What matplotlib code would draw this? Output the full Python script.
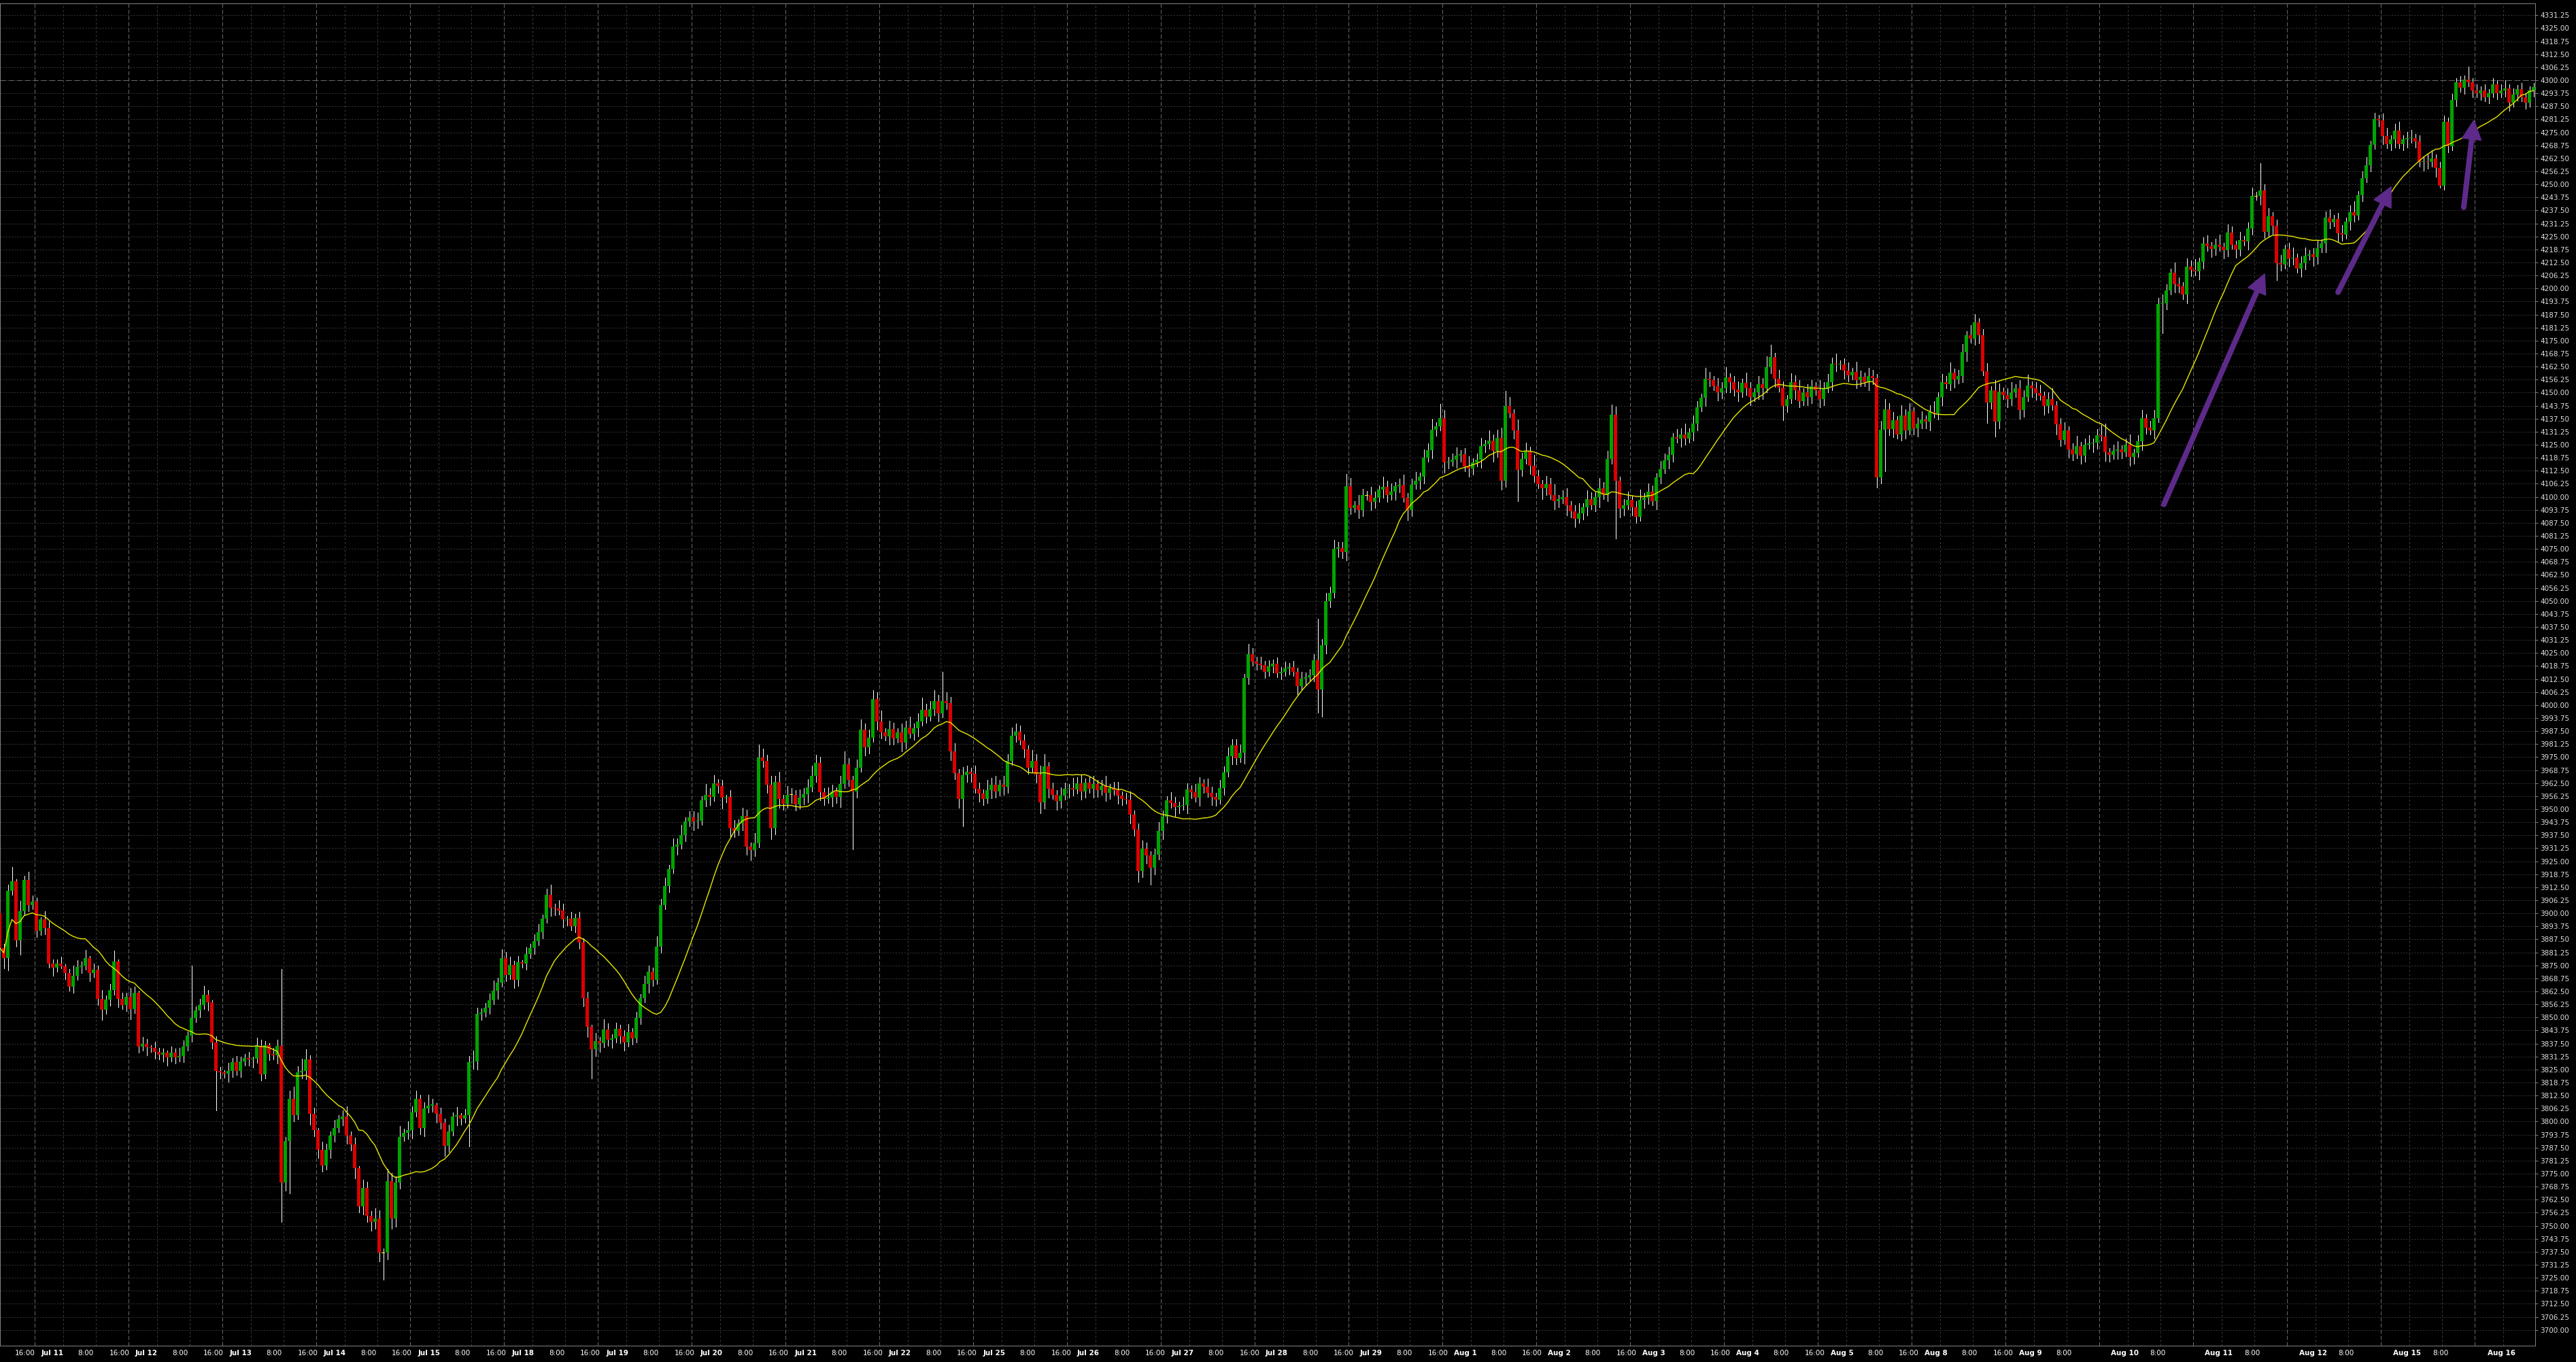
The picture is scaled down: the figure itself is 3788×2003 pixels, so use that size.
import numpy as np
import pandas as pd
import matplotlib
matplotlib.use('Agg')
import matplotlib.pyplot as plt
import matplotlib.transforms as mtransforms
from matplotlib.patches import Polygon

plt.rcParams['lines.scale_dashes'] = False
plt.rcParams['font.family'] = 'DejaVu Sans'

# hourly bars (open of each bar = previous close)
first_open = 3900.2
closes = [
    3883.5, 3878.5, 3910.8, 3915.4, 3887.1, 3901.0, 3916.0, 3904.0, 3905.6, 3891.5,
    3897.0, 3893.0, 3876.0, 3874.0, 3876.0, 3874.5, 3871.3, 3864.8, 3869.9, 3874.4,
    3874.8, 3878.5, 3871.3, 3873.0, 3859.0, 3853.7, 3858.7, 3863.0, 3877.0, 3858.9,
    3856.0, 3860.0, 3854.0, 3861.7, 3836.0, 3837.5, 3835.8, 3835.3, 3833.3, 3832.0,
    3833.0, 3830.8, 3833.0, 3830.8, 3831.5, 3836.0, 3841.4, 3849.9, 3853.2, 3856.0,
    3861.0, 3857.3, 3838.0, 3824.3, 3823.6, 3823.0, 3824.3, 3828.4, 3824.3, 3829.0,
    3830.5, 3829.8, 3830.2, 3836.4, 3822.6, 3836.6, 3832.5, 3831.8, 3836.4, 3770.7,
    3790.6, 3810.8, 3803.0, 3823.6, 3824.3, 3829.8, 3803.6, 3796.0, 3786.5, 3779.0,
    3786.5, 3793.4, 3796.8, 3801.2, 3802.3, 3793.4, 3789.2, 3777.6, 3759.4, 3768.0,
    3754.9, 3751.7, 3753.5, 3737.0, 3737.0, 3771.4, 3753.5, 3770.7, 3792.7, 3794.7,
    3796.0, 3804.3, 3810.8, 3796.8, 3806.4, 3807.8, 3808.0, 3803.6, 3799.6, 3788.5,
    3795.4, 3802.3, 3803.0, 3801.6, 3803.0, 3828.4, 3829.0, 3851.8, 3852.5, 3854.8,
    3858.4, 3862.8, 3866.9, 3878.6, 3870.3, 3875.1, 3868.2, 3876.5, 3875.8, 3880.6,
    3883.4, 3886.8, 3890.9, 3897.5, 3908.8, 3902.6, 3902.2, 3901.5, 3897.1, 3897.6,
    3894.0, 3897.8, 3886.1, 3859.3, 3845.6, 3834.6, 3838.7, 3837.6, 3844.2, 3839.4,
    3840.0, 3844.6, 3840.8, 3838.0, 3842.8, 3840.0, 3849.7, 3859.3, 3866.0, 3872.0,
    3868.0, 3884.0, 3903.9, 3913.1, 3921.2, 3932.1, 3933.0, 3937.5, 3944.0, 3946.0,
    3944.0, 3944.5, 3954.3, 3957.0, 3956.0, 3962.4, 3961.0, 3955.4, 3956.0, 3940.8,
    3939.5, 3943.0, 3946.7, 3932.1, 3930.5, 3933.7, 3974.9, 3973.2, 3961.9, 3940.8,
    3963.0, 3954.8, 3952.7, 3957.0, 3957.0, 3952.2, 3955.4, 3957.2, 3960.5, 3966.0,
    3972.2, 3958.1, 3954.8, 3955.4, 3958.6, 3955.9, 3962.0, 3971.6, 3964.0, 3958.6,
    3970.0, 3988.2, 3979.7, 3984.3, 4003.0, 3992.2, 3986.8, 3985.0, 3988.6, 3984.1,
    3987.0, 3981.9, 3989.3, 3986.2, 3989.0, 3992.2, 3997.6, 3994.4, 3998.0, 4002.0,
    3996.0, 4002.0, 4001.0, 3977.6, 3967.3, 3954.8, 3966.2, 3968.0, 3967.0, 3959.7,
    3957.6, 3954.8, 3959.2, 3961.9, 3958.6, 3961.9, 3960.8, 3973.3, 3985.2, 3987.3,
    3983.0, 3978.7, 3970.0, 3973.3, 3966.8, 3953.2, 3970.5, 3959.7, 3957.0, 3953.8,
    3956.5, 3959.7, 3960.0, 3959.5, 3962.4, 3958.6, 3962.6, 3959.7, 3962.0, 3959.0,
    3961.0, 3958.0, 3960.0, 3959.0, 3956.5, 3955.0, 3954.6, 3947.3, 3940.2, 3920.2,
    3931.0, 3927.8, 3921.8, 3928.0, 3939.7, 3946.5, 3954.2, 3952.8, 3950.9, 3951.6,
    3952.0, 3959.5, 3958.2, 3955.5, 3962.5, 3960.7, 3957.9, 3956.0, 3954.6, 3960.0,
    3967.7, 3975.6, 3980.7, 3974.5, 3977.0, 4013.1, 4024.3, 4021.0, 4020.0, 4019.2,
    4016.0, 4018.6, 4019.9, 4015.3, 4016.1, 4017.7, 4018.3, 4016.0, 4009.1, 4012.8,
    4013.5, 4014.4, 4021.5, 4007.4, 4028.7, 4049.9, 4053.7, 4075.2, 4075.4, 4073.5,
    4105.1, 4094.8, 4096.0, 4093.7, 4100.7, 4100.7, 4097.5, 4099.5, 4103.5, 4104.6,
    4100.7, 4102.5, 4105.1, 4105.6, 4099.7, 4093.7, 4105.7, 4107.8, 4109.5, 4118.7,
    4122.5, 4132.3, 4133.7, 4137.7, 4116.5, 4117.0, 4117.8, 4119.8, 4120.3, 4114.4,
    4113.5, 4116.5, 4117.8, 4124.4, 4125.2, 4127.0, 4122.0, 4128.3, 4107.6, 4143.7,
    4140.0, 4132.0, 4113.0, 4118.0, 4122.0, 4115.0, 4110.0, 4106.0, 4104.0, 4106.0,
    4101.0, 4098.0, 4099.0, 4100.0, 4096.0, 4093.0, 4089.5, 4092.0, 4095.0, 4099.0,
    4096.0, 4100.0, 4104.0, 4101.0, 4118.0, 4139.4, 4107.8, 4094.2, 4096.0, 4098.4,
    4095.0, 4090.4, 4098.6, 4099.7, 4102.4, 4098.0, 4109.4, 4113.3, 4117.6, 4120.0,
    4128.5, 4128.0, 4130.0, 4128.0, 4131.0, 4135.0, 4143.0, 4147.5, 4156.8, 4156.0,
    4153.0, 4150.3, 4152.0, 4157.3, 4155.0, 4151.4, 4150.0, 4154.6, 4152.0, 4148.0,
    4150.0, 4154.0, 4152.0, 4162.3, 4167.1, 4156.8, 4152.4, 4143.7, 4147.0, 4155.2,
    4151.0, 4146.0, 4150.0, 4148.0, 4153.0, 4151.0, 4147.0, 4152.0, 4155.0, 4163.9,
    4163.4, 4163.6, 4160.6, 4158.4, 4159.8, 4156.0, 4157.5, 4155.0, 4158.0, 4157.0,
    4109.4, 4132.3, 4142.0, 4132.5, 4136.7, 4130.0, 4139.0, 4131.8, 4141.0, 4133.0,
    4135.0, 4137.0, 4136.0, 4140.8, 4140.0, 4148.0, 4155.0, 4154.0, 4159.5, 4156.5,
    4158.0, 4169.3, 4177.5, 4176.0, 4183.8, 4177.5, 4160.3, 4145.3, 4151.0, 4136.0,
    4150.5, 4149.0, 4146.8, 4150.0, 4152.0, 4141.5, 4148.0, 4153.5, 4152.0, 4149.7,
    4148.5, 4143.5, 4147.0, 4143.8, 4134.8, 4127.3, 4131.8, 4122.8, 4120.5, 4124.3,
    4119.8, 4125.0, 4125.5, 4126.0, 4129.5, 4129.0, 4121.3, 4120.0, 4122.0, 4122.8,
    4121.5, 4125.0, 4119.0, 4121.0, 4126.5, 4137.8, 4133.3, 4132.0, 4137.8, 4192.5,
    4193.0, 4199.2, 4207.5, 4202.2, 4201.0, 4197.0, 4210.5, 4209.0, 4208.2, 4212.7,
    4221.7, 4220.2, 4219.0, 4221.0, 4220.0, 4218.5, 4226.9, 4221.0, 4218.7, 4223.2,
    4222.6, 4228.9, 4244.4, 4244.4, 4247.1, 4227.3, 4234.6, 4230.2, 4212.1, 4211.5,
    4219.0, 4214.5, 4214.8, 4209.6, 4212.3, 4215.8, 4216.4, 4215.0, 4219.4, 4221.5,
    4234.1, 4231.7, 4233.5, 4226.4, 4225.9, 4232.1, 4236.8, 4235.1, 4244.9, 4253.1,
    4259.1, 4268.9, 4281.4, 4280.9, 4273.2, 4269.4, 4271.6, 4276.0, 4269.4, 4271.6,
    4272.1, 4272.3, 4270.7, 4260.7, 4261.3, 4260.7, 4262.4, 4257.8, 4249.5, 4280.1,
    4268.3, 4290.6, 4299.1, 4296.5, 4300.4, 4299.1, 4295.0, 4293.7, 4295.0, 4291.9,
    4293.7, 4298.0, 4293.9, 4295.2, 4296.0, 4289.2, 4293.2, 4295.8, 4291.9, 4289.3,
    4295.2, 4296.7,
]

# wick above / below the body, points
wick_up = [
    5, 2, 3, 7, 1, 5, 2, 4, 3, 2,   1, 4, 3, 2, 2, 3, 1, 2, 5, 3,
    2, 4, 1, 3, 2, 4, 2, 3, 5, 1,   3, 2, 4, 3, 1, 3, 2, 1, 3, 2,
    2, 1, 3, 2, 4, 3, 2, 25, 2, 3,  4, 2, 1, 3, 2, 1, 4, 2, 3, 2,
    2, 3, 1, 4, 3, 2, 1, 3, 3, 37,  2, 4, 6, 3, 6, 5, 2, 3, 1, 4,
    3, 2, 4, 2, 3, 5, 2, 3, 1, 4,   3, 2, 5, 4, 2, 6, 4, 3, 5, 2,
    4, 3, 4, 2, 3, 5, 3, 1, 3, 2,   3, 2, 4, 1, 3, 3, 5, 3, 2, 2,
    3, 5, 2, 4, 3, 4, 2, 3, 1, 3,   2, 3, 4, 2, 3, 5, 2, 4, 3, 1,
    3, 2, 3, 2, 3, 1, 4, 2, 5, 3,   2, 3, 2, 3, 4, 2, 3, 2, 4, 3,
    2, 5, 3, 4, 2, 4, 3, 5, 2, 3,   3, 4, 2, 5, 3, 4, 2, 3, 1, 3,
    4, 2, 4, 3, 2, 5, 6, 4, 3, 4,   3, 5, 2, 4, 3, 2, 4, 3, 4, 5,
    4, 3, 2, 5, 3, 2, 4, 6, 3, 2,   4, 5, 3, 4, 4, 3, 5, 2, 4, 3,
    2, 4, 3, 5, 2, 4, 6, 3, 4, 5,   3, 14, 4, 3, 4, 2, 4, 3, 2, 4,
    3, 2, 5, 3, 4, 2, 4, 3, 4, 4,   3, 3, 2, 5, 3, 4, 6, 2, 3, 2,
    4, 3, 2, 5, 3, 4, 2, 3, 4, 2,   3, 5, 2, 3, 4, 2, 3, 4, 2, 3,
    4, 3, 2, 3, 4, 3, 2, 4, 3, 2,   4, 3, 2, 4, 3, 2, 4, 3, 2, 4,
    3, 4, 3, 3, 4, 2, 5, 3, 2, 3,   2, 3, 2, 3, 2, 3, 2, 3, 2, 3,
    2, 3, 3, 20, 3, 4, 3, 4, 3, 3,  6, 4, 2, 5, 3, 2, 4, 3, 2, 5,
    3, 4, 2, 3, 5, 2, 3, 4, 2, 4,   3, 5, 2, 7, 4, 2, 3, 4, 2, 3,
    5, 2, 3, 4, 2, 5, 3, 4, 5, 7,   4, 2, 5, 3, 4, 2, 5, 3, 2, 4,
    3, 5, 2, 3, 4, 2, 3, 5, 2, 4,   3, 2, 5, 3, 4, 5, 4, 2, 3, 4,
    2, 3, 5, 2, 4, 3, 2, 4, 3, 4,   2, 4, 3, 5, 2, 4, 3, 2, 5, 3,
    2, 4, 3, 5, 2, 3, 4, 2, 5, 3,   2, 4, 3, 5, 6, 2, 4, 3, 2, 4,
    3, 5, 2, 4, 3, 2, 5, 3, 4, 3,   5, 2, 3, 4, 2, 5, 3, 2, 4, 3,
    2, 4, 5, 3, 4, 2, 5, 3, 4, 2,   3, 4, 2, 3, 5, 2, 4, 3, 5, 2,
    3, 4, 2, 5, 4, 2, 3, 4, 2, 5,   4, 2, 3, 5, 2, 4, 3, 5, 2, 3,
    4, 2, 3, 5, 2, 3, 4, 2, 3, 5,   2, 3, 4, 2, 3, 5, 6, 2, 3, 4,
    2, 3, 5, 2, 3, 4, 2, 3, 4, 3,   4, 3, 2, 5, 3, 2, 4, 3, 5, 2,
    3, 4, 2, 3, 5, 2, 4, 3, 2, 4,   2, 3, 4, 2, 13, 3, 4, 2, 3, 4,
    2, 3, 5, 2, 3, 4, 2, 3, 4, 2,   3, 4, 2, 3, 4, 2, 3, 5, 2, 3,
    4, 2, 3, 2, 3, 4, 2, 3, 4, 2,   3, 4, 2, 3, 2, 3, 4, 2, 3, 3,
    2, 3, 2, 3, 2, 6, 2, 3, 2, 3,   2, 3, 2, 3, 4, 2, 3, 2, 3, 2,
    2, 2,
]
wick_dn = [
    4, 5, 6, 2, 3, 7, 2, 3, 2, 3,   2, 3, 2, 4, 2, 1, 3, 2, 3, 2,
    3, 2, 4, 2, 3, 5, 2, 3, 2, 4,   2, 3, 5, 2, 3, 2, 4, 2, 3, 2,
    3, 4, 2, 3, 2, 3, 2, 3, 2, 3,   2, 4, 3, 19, 3, 2, 4, 3, 2, 3,
    2, 3, 4, 2, 3, 2, 3, 2, 4, 19,  4, 25, 3, 2, 3, 4, 5, 3, 4, 3,
    2, 4, 3, 2, 3, 4, 3, 5, 3, 4,   3, 4, 3, 4, 13, 3, 5, 4, 3, 2,
    3, 4, 2, 3, 4, 2, 3, 4, 3, 5,   3, 2, 4, 3, 2, 15, 3, 4, 3, 2,
    3, 2, 4, 2, 3, 2, 4, 3, 2, 3,   2, 3, 2, 3, 2, 4, 3, 2, 4, 3,
    2, 3, 3, 4, 5, 14, 3, 4, 2, 3,  4, 2, 3, 4, 2, 3, 2, 3, 2, 4,
    3, 2, 3, 2, 3, 2, 4, 2, 3, 2,   4, 3, 2, 3, 4, 2, 3, 5, 2, 4,
    3, 2, 3, 4, 5, 3, 2, 3, 4, 5,   3, 4, 3, 2, 4, 3, 2, 3, 4, 2,
    3, 4, 3, 2, 4, 3, 5, 2, 3, 28,  3, 2, 4, 3, 2, 4, 3, 2, 4, 3,
    2, 4, 3, 2, 3, 4, 2, 3, 2, 3,   4, 2, 3, 4, 3, 4, 13, 3, 4, 2,
    4, 3, 2, 4, 3, 2, 4, 3, 2, 3,   2, 4, 3, 2, 4, 5, 3, 4, 2, 4,
    3, 2, 4, 3, 2, 4, 3, 2, 4, 3,   2, 4, 3, 2, 4, 3, 2, 4, 3, 5,
    3, 4, 8, 3, 2, 4, 3, 2, 4, 3,   2, 4, 3, 2, 4, 3, 2, 4, 3, 2,
    3, 2, 4, 3, 2, 5, 3, 2, 3, 2,   3, 2, 3, 2, 3, 2, 3, 2, 4, 2,
    3, 2, 3, 11, 13, 4, 3, 2, 4, 3, 4, 3, 2, 4, 3, 2, 4, 3, 2, 4,
    3, 2, 4, 3, 2, 5, 3, 2, 4, 3,   2, 4, 3, 2, 5, 3, 2, 4, 3, 2,
    4, 3, 2, 4, 3, 2, 5, 3, 4, 3,   2, 4, 15, 3, 2, 4, 3, 2, 5, 3,
    2, 4, 3, 2, 5, 3, 4, 2, 3, 4,   2, 3, 5, 2, 3, 2, 28, 4, 3, 2,
    4, 3, 2, 4, 3, 2, 4, 3, 2, 4,   3, 2, 4, 3, 2, 4, 3, 2, 4, 3,
    2, 4, 3, 2, 5, 3, 4, 2, 3, 4,   2, 3, 5, 2, 3, 4, 2, 7, 3, 2,
    4, 3, 2, 4, 3, 2, 4, 3, 2, 4,   3, 2, 4, 3, 2, 4, 3, 2, 4, 3,
    5, 3, 20, 3, 4, 2, 3, 4, 2, 3,  4, 2, 3, 4, 2, 3, 4, 2, 3, 4,
    2, 3, 4, 2, 3, 4, 2, 10, 3, 7,  3, 2, 4, 3, 2, 4, 3, 2, 4, 3,
    2, 4, 3, 2, 5, 3, 2, 4, 3, 2,   4, 3, 2, 4, 3, 2, 4, 3, 2, 4,
    3, 2, 4, 3, 2, 4, 3, 2, 4, 2,   14, 3, 2, 4, 3, 2, 4, 3, 2, 4,
    3, 2, 4, 3, 2, 4, 3, 2, 4, 3,   2, 4, 3, 2, 4, 3, 2, 4, 8, 3,
    2, 4, 3, 2, 4, 3, 2, 4, 3, 2,   4, 3, 2, 4, 3, 2, 4, 3, 2, 3,
    2, 3, 2, 3, 4, 2, 3, 4, 2, 3,   4, 2, 3, 2, 4, 3, 2, 4, 1, 2,
    3, 2, 3, 2, 3, 2, 3, 2, 3, 2,   3, 2, 3, 2, 3, 4, 2, 3, 2, 3,
    2, 3,
]

date_labels = ['Jul 11', 'Jul 12', 'Jul 13', 'Jul 14', 'Jul 15', 'Jul 18', 'Jul 19',
               'Jul 20', 'Jul 21', 'Jul 22', 'Jul 25', 'Jul 26', 'Jul 27', 'Jul 28',
               'Jul 29', 'Aug 1', 'Aug 2', 'Aug 3', 'Aug 4', 'Aug 5', 'Aug 8', 'Aug 9',
               'Aug 10', 'Aug 11', 'Aug 12', 'Aug 15', 'Aug 16']
n_1600_labels = 22
n_0800_labels = 26
price_ticks = np.arange(3700.0, 4331.3, 6.25)
ref_level = 4300.0
ma_period = 20
# hand-drawn arrows: (bar, price) tail -> tip
arrows = [((530.4, 4096.3), (555.1, 4207.0)),
          ((573.1, 4198.2), (586.1, 4248.8)),
          ((603.9, 4239.0), (606.4, 4280.8))]

W, H = 3788, 2003
PX = 0.72  # one pixel in points at dpi 100
BAR_PX = 6.0

fig = plt.figure(figsize=(W / 100, H / 100), dpi=100, facecolor='black')
ax = fig.add_axes([0, 24 / H, 3728 / W, 1974 / H], facecolor='black')
ax.set_xlim(0.5 / BAR_PX, 3728.5 / BAR_PX)
ax.set_ylim(3692.4, 4336.9)
x0, x1 = ax.get_xlim()
y0, y1 = ax.get_ylim()

c = np.array(closes)
o = np.r_[first_open, c[:-1]]
hi = np.maximum(o, c) + np.array(wick_up)
lo = np.minimum(o, c) - np.array(wick_dn)
x = np.arange(len(c))

# grid
ax.hlines(price_ticks, x0, x1, colors='#363636', linestyles=(0, (1.5, 1.5)), lw=PX, zorder=1)
major_v = 8.5 + 23 * np.arange(27)
minor_v = np.r_[15.5 + 23 * np.arange(27), 23.5 + 23 * np.arange(26)]
ax.vlines(minor_v, y0, y1, colors='#3a3a3a', linestyles=(0, (2.2, 2.2)), lw=PX, zorder=1)
ax.vlines(major_v, y0, y1, colors='#686868', linestyles=(0, (4.3, 2.2)), lw=PX, zorder=1)
ax.axhline(ref_level, color='#6a6a6a', ls=(0, (5.8, 2.9)), lw=PX, zorder=1)

# candles
ax.vlines(x, lo, hi, colors='white', lw=PX, zorder=3, antialiased=False)
up = c > o
dn = c < o
flat = c == o
bw = 5 / BAR_PX
ax.bar(x[up], np.maximum(c[up] - o[up], 0.35), bottom=o[up], width=bw,
       color='#00a400', lw=0, antialiased=False, zorder=4)
ax.bar(x[dn], np.maximum(o[dn] - c[dn], 0.35), bottom=c[dn], width=bw,
       color='#dc0000', lw=0, antialiased=False, zorder=4)
ax.bar(x[flat], 0.4, bottom=c[flat] - 0.2, width=bw,
       color='#ffff00', lw=0, antialiased=False, zorder=4)

ma = pd.Series(c).rolling(ma_period, min_periods=1).mean()
ax.plot(x, ma, color='#e6e600', lw=1.4 * PX, zorder=5)

# arrows
purple = '#5d2a8a'
head_len, head_half = 28, 14
inv = ax.transData.inverted()
for (ta, tb), (ha, hb) in arrows:
    p0 = ax.transData.transform((ta, tb))
    p1 = ax.transData.transform((ha, hb))
    u = (p1 - p0) / np.hypot(*(p1 - p0))
    nrm = np.array([-u[1], u[0]])
    base = p1 - u * head_len
    tri = inv.transform(np.array([p1, base + nrm * head_half, base - nrm * head_half]))
    ax.add_patch(Polygon(tri, closed=True, facecolor=purple, edgecolor=purple,
                         lw=1.5 * PX, joinstyle='round', zorder=6))
    shaft_end = inv.transform(base + u * 3)
    ax.plot([ta, shaft_end[0]], [tb, shaft_end[1]], color=purple, lw=8 * PX,
            solid_capstyle='round', zorder=6)

# axes
ax.yaxis.tick_right()
ax.set_yticks(price_ticks)
ax.set_yticklabels([f'{v:.2f}' for v in price_ticks])
ax.tick_params(axis='y', colors='#808080', labelcolor='#e0e0e0', length=4 * PX,
               width=PX, pad=3 * PX, labelsize=7.5)
ax.set_xticks([])
for s in ax.spines.values():
    s.set_color('#808080')
    s.set_linewidth(PX)

trans = mtransforms.blended_transform_factory(ax.transData, fig.transFigure)
ylab = 1 - 1990 / H
day_px = 138.5


def put(px, txt, bold=False):
    ax.text((px + 0.5) / BAR_PX, ylab, txt, transform=trans, ha='center', va='center',
            color='white', fontsize=7.5, fontweight='bold' if bold else 'normal',
            clip_on=False)


for k, d in enumerate(date_labels):
    put(77 + day_px * k, d, bold=True)
for k in range(n_1600_labels):
    put(37 + day_px * k, '16:00')
for k in range(n_0800_labels):
    put(126 + day_px * k, '8:00')

fig.savefig('out.png', dpi=100, facecolor='black')
